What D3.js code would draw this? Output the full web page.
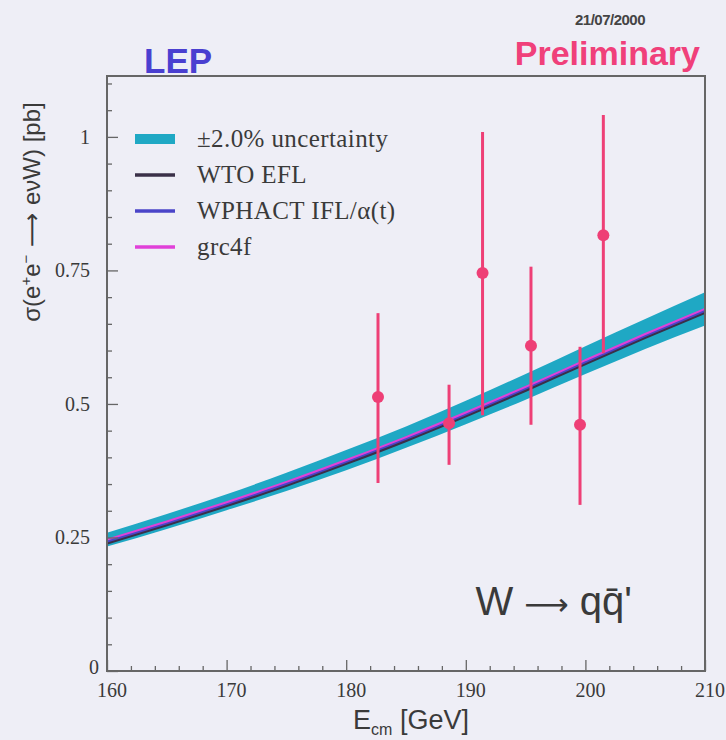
<!DOCTYPE html>
<html>
<head>
<meta charset="utf-8">
<script src="https://cdn.jsdelivr.net/npm/d3@7"></script>
<style>
  body { margin: 0; background: #eeeef6; }
  svg { display: block; }
</style>
</head>
<body>
<svg id="chart" width="726" height="740"></svg>
<script>
// measured cross sections (LEP combined, preliminary)
var energies = [182.66, 188.6, 191.4, 195.45, 199.55, 201.5];
var xsec     = [0.513, 0.464, 0.745, 0.609, 0.461, 0.816];
var errUp    = [0.157, 0.072, 0.264, 0.148, 0.146, 0.225];
var errDown  = [0.161, 0.078, 0.266, 0.148, 0.150, 0.221];

// theory curves
var curveE    = [160, 165, 170, 175, 180, 185, 190, 195, 200, 205, 210];
var wtoEFL    = [0.240, 0.274, 0.310, 0.348, 0.389, 0.432, 0.478, 0.526, 0.576, 0.625, 0.672];
var wphact    = [0.243, 0.277, 0.313, 0.351, 0.392, 0.435, 0.481, 0.529, 0.579, 0.628, 0.675];
var grc4f     = [0.246, 0.280, 0.316, 0.354, 0.395, 0.438, 0.484, 0.532, 0.582, 0.631, 0.678];
var bandHigh  = [0.259, 0.294, 0.331, 0.371, 0.414, 0.458, 0.506, 0.556, 0.608, 0.659, 0.709];
var bandLow   = [0.233, 0.266, 0.301, 0.337, 0.376, 0.418, 0.462, 0.508, 0.556, 0.603, 0.647];

var xTicks = [160, 170, 180, 190, 200, 210];
var yTicks = [0, 0.25, 0.5, 0.75, 1];
var yTickLabels = ["0", "0.25", "0.5", "0.75", "1"];

var legendLabels = ["\u00b12.0% uncertainty", "WTO EFL", "WPHACT IFL/\u03b1(t)", "grc4f"];
var legendColors = ["#1fa8c4", "#3a3048", "#4a44c8", "#e040d8"];

var svg = d3.select("#chart");
var pLeft = 107, pRight = 705, pTop = 76, pBottom = 671;

var x = d3.scaleLinear().domain([160, 210]).range([pLeft, pRight]);
var y = d3.scaleLinear().domain([0, 1.114]).range([pBottom, pTop]);

var band = curveE.map(function(e, i){ return {e: e, lo: bandLow[i], hi: bandHigh[i]}; });

// uncertainty band
svg.append("path")
  .datum(band)
  .attr("fill", "#1fa8c4")
  .attr("d", d3.area()
    .x(function(d){ return x(d.e); })
    .y0(function(d){ return y(d.lo); })
    .y1(function(d){ return y(d.hi); })
    .curve(d3.curveMonotoneX));

function drawCurve(vals, color, w) {
  svg.append("path")
    .datum(curveE.map(function(e, i){ return [e, vals[i]]; }))
    .attr("fill", "none")
    .attr("stroke", color)
    .attr("stroke-width", w)
    .attr("d", d3.line()
      .x(function(d){ return x(d[0]); })
      .y(function(d){ return y(d[1]); })
      .curve(d3.curveMonotoneX));
}
drawCurve(wtoEFL, legendColors[1], 3.5);
drawCurve(wphact, legendColors[2], 2.5);
drawCurve(grc4f, legendColors[3], 2);

// frame
svg.append("rect")
  .attr("x", pLeft).attr("y", pTop)
  .attr("width", pRight - pLeft).attr("height", pBottom - pTop)
  .attr("fill", "none").attr("stroke", "#666").attr("stroke-width", 2);

// axes with inward ticks
var xAxis = svg.append("g").attr("transform", "translate(0," + pBottom + ")");
xAxis.call(d3.axisTop(x).tickValues(d3.range(160, 210.1, 2)).tickSize(5).tickFormat(""));
xAxis.selectAll(".tick").filter(function(d){ return d % 10 === 0; }).select("line").attr("y2", -11);
xAxis.select(".domain").remove();
xAxis.selectAll("line").attr("stroke", "#666").attr("stroke-width", 1.3);

var yAxis = svg.append("g").attr("transform", "translate(" + pLeft + ",0)");
yAxis.call(d3.axisRight(y).tickValues(d3.range(0, 1.101, 0.05)).tickSize(5).tickFormat(""));
yAxis.selectAll(".tick").filter(function(d){ return Math.abs(d * 4 - Math.round(d * 4)) < 1e-6; }).select("line").attr("x2", 11);
yAxis.select(".domain").remove();
yAxis.selectAll("line").attr("stroke", "#666").attr("stroke-width", 1.3);

// tick labels
svg.selectAll(".xlab").data(xTicks).enter().append("text")
  .attr("x", function(d){ return x(d) + 5; })
  .attr("y", 697)
  .attr("text-anchor", "middle")
  .attr("font-family", "Liberation Serif, serif")
  .attr("font-size", 20)
  .attr("fill", "#3a3a3a")
  .text(function(d){ return d; });

svg.selectAll(".ylab").data(yTicks).enter().append("text")
  .attr("x", function(d){ return d === 0 ? 99 : 90; })
  .attr("y", function(d){ return d === 0 ? y(d) + 3 : y(d) + 7; })
  .attr("text-anchor", "end")
  .attr("font-family", "Liberation Serif, serif")
  .attr("font-size", 20)
  .attr("fill", "#3a3a3a")
  .text(function(d, i){ return yTickLabels[i]; });

// data points
var pts = energies.map(function(e, i){ return {e: e, v: xsec[i], up: errUp[i], dn: errDown[i]}; });
var pink = "#ee3f76";
svg.selectAll(".err").data(pts).enter().append("line")
  .attr("x1", function(d){ return x(d.e); })
  .attr("x2", function(d){ return x(d.e); })
  .attr("y1", function(d){ return y(d.v + d.up); })
  .attr("y2", function(d){ return y(d.v - d.dn); })
  .attr("stroke", pink).attr("stroke-width", 3);
svg.selectAll(".pt").data(pts).enter().append("circle")
  .attr("cx", function(d){ return x(d.e); })
  .attr("cy", function(d){ return y(d.v); })
  .attr("r", 6)
  .attr("fill", pink);

// legend
var lg = svg.append("g");
legendLabels.forEach(function(lab, i){
  var yy = 139 + i * 36;
  lg.append("line")
    .attr("x1", 135).attr("x2", 175).attr("y1", yy).attr("y2", yy)
    .attr("stroke", legendColors[i]).attr("stroke-width", i === 0 ? 10 : 3.5);
  lg.append("text")
    .attr("x", 197).attr("y", yy + 8)
    .attr("font-family", "Liberation Serif, serif")
    .attr("font-size", 25)
    .attr("letter-spacing", 0.4)
    .attr("fill", "#3a3a3a")
    .text(lab);
});

// titles
svg.append("text").attr("x", 144).attr("y", 73)
  .attr("font-family", "Liberation Sans, Arial, sans-serif").attr("font-size", 35)
  .attr("font-weight", "bold").attr("fill", "#4a3fd0").text("LEP");
svg.append("text").attr("x", 700).attr("y", 65)
  .attr("text-anchor", "end")
  .attr("font-family", "Liberation Sans, Arial, sans-serif").attr("font-size", 34)
  .attr("font-weight", "bold").attr("fill", "#f0407a").text("Preliminary");
svg.append("text").attr("x", 610).attr("y", 25)
  .attr("text-anchor", "middle")
  .attr("font-family", "Liberation Sans, Arial, sans-serif").attr("font-size", 15)
  .attr("font-weight", "bold").attr("letter-spacing", -0.5).attr("fill", "#444").text("21/07/2000");

// axis titles
var xt = svg.append("text").attr("x", 411).attr("y", 729)
  .attr("text-anchor", "middle")
  .attr("font-family", "Liberation Sans, Arial, sans-serif").attr("font-size", 27)
  .attr("fill", "#3a3a3a");
xt.append("tspan").text("E");
xt.append("tspan").attr("font-size", 16).attr("dy", 6).text("cm");
xt.append("tspan").attr("dy", -6).text(" [GeV]");

var yt = svg.append("text")
  .attr("transform", "translate(40,212) rotate(-90)")
  .attr("text-anchor", "middle")
  .attr("font-family", "Liberation Sans, Arial, sans-serif").attr("font-size", 24)
  .attr("fill", "#3a3a3a");
yt.append("tspan").text("\u03c3(e");
yt.append("tspan").attr("font-size", 15).attr("dy", -9).text("+");
yt.append("tspan").attr("dy", 9).text("e");
yt.append("tspan").attr("font-size", 15).attr("dy", -9).text("\u2212");
yt.append("tspan").attr("dy", 9).attr("font-family", "DejaVu Sans").text(" \u27f6 ");
yt.append("tspan").text("e\u03bdW) [pb]");

// process label
var pl = svg.append("text").attr("x", 632).attr("y", 615)
  .attr("text-anchor", "end")
  .attr("font-family", "Liberation Sans, Arial, sans-serif").attr("font-size", 40)
  .attr("fill", "#3a3a3a");
pl.append("tspan").text("W ");
pl.append("tspan").attr("font-family", "DejaVu Sans").attr("font-size", 31).text("\u27f6");
pl.append("tspan").text(" qq\u0304'");
</script>
</body>
</html>
